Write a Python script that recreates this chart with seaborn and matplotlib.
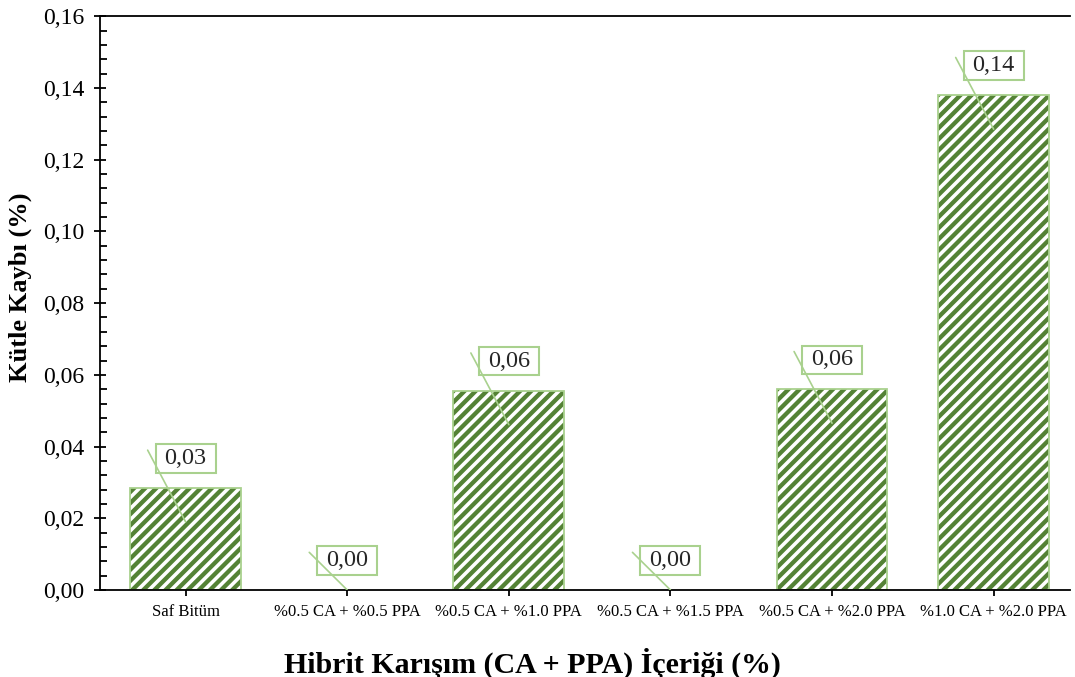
import matplotlib
matplotlib.use("Agg")
import matplotlib.pyplot as plt
import seaborn as sns
from matplotlib.patches import Rectangle
from matplotlib.ticker import MultipleLocator


categories = ["Saf Bitüm", "%0.5 CA + %0.5 PPA", "%0.5 CA + %1.0 PPA",
              "%0.5 CA + %1.5 PPA", "%0.5 CA + %2.0 PPA", "%1.0 CA + %2.0 PPA"]
values = [0.0285, 0.0, 0.0556, 0.0, 0.0560, 0.1380]
labels = ["0,03", "0,00", "0,06", "0,00", "0,06", "0,14"]

dark_green = "#548235"
light_green = "#a9d18e"

sns.set_theme(style="white")
plt.rcParams["font.family"] = ["Liberation Serif", "DejaVu Serif"]
plt.rcParams["hatch.linewidth"] = 3.1
plt.rcParams["hatch.color"] = dark_green

fig = plt.figure(figsize=(10.75, 6.77), dpi=100)
ax = fig.add_axes([0.093, 0.1285, 0.902, 0.8475])

sns.barplot(x=categories, y=values, color="white", edgecolor=dark_green,
            linewidth=0, width=0.685, hatch="///", ax=ax)

# light green outline on top of the hatched bars
for p in list(ax.patches):
    if p.get_height() > 0:
        ax.add_patch(Rectangle(p.get_xy(), p.get_width(), p.get_height(),
                               fill=False, edgecolor=light_green, linewidth=1.3))

# data labels with leader lines
for i, (v, lab) in enumerate(zip(values, labels)):
    t = ax.text(i, v + 0.0082, lab, ha="center", va="center", fontsize=17.5,
                zorder=5,
                bbox=dict(boxstyle="square,pad=0.37", facecolor="white",
                          edgecolor=light_green, linewidth=1.5))
    t.get_bbox_patch().set_mutation_aspect(0.42)
    ax.plot([i - 0.235, i], [v + 0.0105, max(v - 0.0095, 0)],
            color=light_green, linewidth=1.2, zorder=6)

ax.set_xlim(-0.53, 5.47)
ax.set_ylim(0, 0.16)
ax.yaxis.set_major_locator(MultipleLocator(0.02))
ax.yaxis.set_minor_locator(MultipleLocator(0.004))
ax.set_yticks(ax.get_yticks())
ax.set_yticklabels([f"{t:.2f}".replace(".", ",") for t in ax.get_yticks()])
ax.set_ylim(0, 0.16)

ax.tick_params(axis="y", which="major", direction="inout", length=9, width=1.3,
               pad=7, labelsize=17, left=True, color="black", labelcolor="black")
ax.tick_params(axis="y", which="minor", direction="in", length=5, width=1.3,
               left=True, color="black")
ax.tick_params(axis="x", which="major", direction="out", length=4, width=1.3,
               pad=6, labelsize=12, bottom=True, color="black", labelcolor="black")

for side in ["left", "bottom", "top"]:
    ax.spines[side].set_color("black")
    ax.spines[side].set_linewidth(1.3)
ax.spines["right"].set_visible(False)

ax.set_ylabel("Kütle Kaybı (%)", fontsize=19, fontweight="bold", color="black")
ax.yaxis.set_label_coords(-0.07, 0.528)
ax.set_xlabel("Hibrit Karışım (CA + PPA) İçeriği (%)", fontsize=21.5,
              fontweight="bold", color="black")
ax.xaxis.set_label_coords(0.446, -0.1)

plt.savefig("out.png", dpi=100)
